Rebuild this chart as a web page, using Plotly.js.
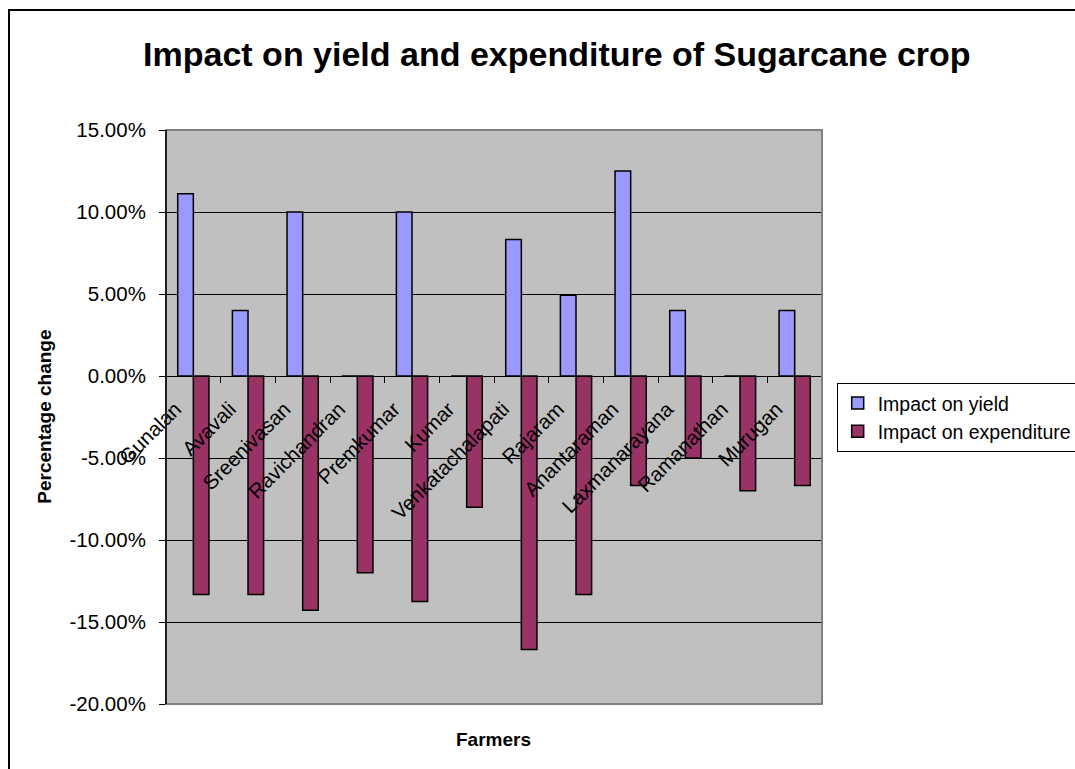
<!DOCTYPE html>
<html>
<head>
<meta charset="utf-8">
<script src="https://cdn.plot.ly/plotly-3.0.1.min.js"></script>
<style>
  html, body { margin: 0; padding: 0; background: #ffffff; overflow: hidden; }
  #chart { position: absolute; left: 0; top: 0; width: 1075px; height: 769px; }
  #frame {
    position: absolute; left: 8px; top: 9px; width: 1100px; height: 800px;
    border-left: 2px solid #000; border-top: 2px solid #000;
    pointer-events: none;
  }
</style>
</head>
<body>
<div id="chart"></div>
<div id="frame"></div>
<script>
// Farmers surveyed
const farmers = [
  "Gunalan", "Avavali", "Sreenivasan", "Ravichandran", "Premkumar", "Kumar",
  "Venkatachalapati", "Rajaram", "Anantaraman", "Laxmanarayana", "Ramanathan", "Murugan"
];

// Percentage change (as fractions)
const yieldImpact = [0.1111, 0.04, 0.10, 0, 0.10, 0, 0.0833, 0.0492, 0.125, 0.04, 0, 0.04];
const expenditureImpact = [-0.1333, -0.1333, -0.1429, -0.12, -0.1375, -0.08, -0.1667, -0.1333, -0.0667, -0.05, -0.07, -0.0667];

// Value axis ticks
const yTicks = [-0.20, -0.15, -0.10, -0.05, 0, 0.05, 0.10, 0.15];
const yTickText = yTicks.map(v => (v * 100).toFixed(2) + "%");

const FONT = "Liberation Sans, Arial, sans-serif";

const traces = [
  {
    type: "bar",
    name: "Impact on yield",
    x: farmers,
    y: yieldImpact,
    marker: { color: "#9999FF", line: { color: "#000000", width: 1.5 } },
    legendgroup: "a"
  },
  {
    type: "bar",
    name: "Impact on expenditure",
    x: farmers,
    y: expenditureImpact,
    marker: { color: "#993366", line: { color: "#000000", width: 1.5 } },
    legendgroup: "b"
  }
];

const yMin = -0.20, yMax = 0.15;

const layout = {
  width: 1075,
  height: 769,
  margin: { l: 166, r: 253, t: 130, b: 65, autoexpand: false },
  paper_bgcolor: "#ffffff",
  plot_bgcolor: "#C0C0C0",
  barmode: "group",
  bargap: 0.4286,
  bargroupgap: 0,
  font: { family: FONT, color: "#000000", size: 20 },
  title: {
    text: "Impact on yield and expenditure of Sugarcane crop",
    font: { family: FONT, size: 34, weight: "bold", color: "#000000" },
    x: 0.518, xanchor: "center",
    y: 0.929, yanchor: "middle"
  },
  xaxis: {
    type: "category",
    anchor: "free",
    position: (0 - yMin) / (yMax - yMin),
    showline: true, linecolor: "#000000", linewidth: 1,
    showgrid: false, zeroline: false,
    ticks: "outside", tickson: "boundaries", ticklen: 6, tickcolor: "#000000",
    tickangle: -45,
    ticklabelshift: -18,
    ticklabelstandoff: 12,
    tickfont: { family: FONT, size: 20.5, color: "#000000" },
    automargin: false
  },
  yaxis: {
    range: [yMin, yMax],
    tickvals: yTicks,
    ticktext: yTickText,
    showline: true, linecolor: "#000000", linewidth: 1,
    showgrid: true, gridcolor: "#000000", gridwidth: 1,
    zeroline: false,
    ticks: "outside", ticklen: 6, tickcolor: "#000000",
    ticklabelstandoff: 9,
    tickfont: { family: FONT, size: 20.5, color: "#000000" },
    automargin: false
  },
  legend: {
    x: 1.0224, xanchor: "left",
    y: 0.5597, yanchor: "top",
    bgcolor: "#ffffff",
    bordercolor: "#000000", borderwidth: 1,
    font: { family: FONT, size: 19.5, color: "#000000" },
    traceorder: "normal",
    tracegroupgap: 6
  },
  shapes: [
    {
      type: "rect", xref: "paper", yref: "paper",
      x0: 0, x1: 1, y0: 0, y1: 1,
      line: { color: "#808080", width: 2 },
      layer: "above"
    },
    {
      type: "line", xref: "paper", yref: "paper",
      x0: 0, x1: 0, y0: 0, y1: 1,
      line: { color: "#000000", width: 1.5 },
      layer: "above"
    }
  ],
  annotations: [
    {
      text: "<b>Percentage change</b>",
      xref: "paper", yref: "paper",
      x: -0.1845, y: 0.5004,
      xanchor: "center", yanchor: "middle",
      textangle: -90, showarrow: false,
      font: { family: FONT, size: 19, color: "#000000" }
    },
    {
      text: "<b>Farmers</b>",
      xref: "paper", yref: "paper",
      x: 0.4985, y: -0.061,
      xanchor: "center", yanchor: "middle",
      showarrow: false,
      font: { family: FONT, size: 19, color: "#000000" }
    }
  ],
  showlegend: true
};

Plotly.newPlot("chart", traces, layout, { staticPlot: true, displayModeBar: false });
</script>
</body>
</html>
